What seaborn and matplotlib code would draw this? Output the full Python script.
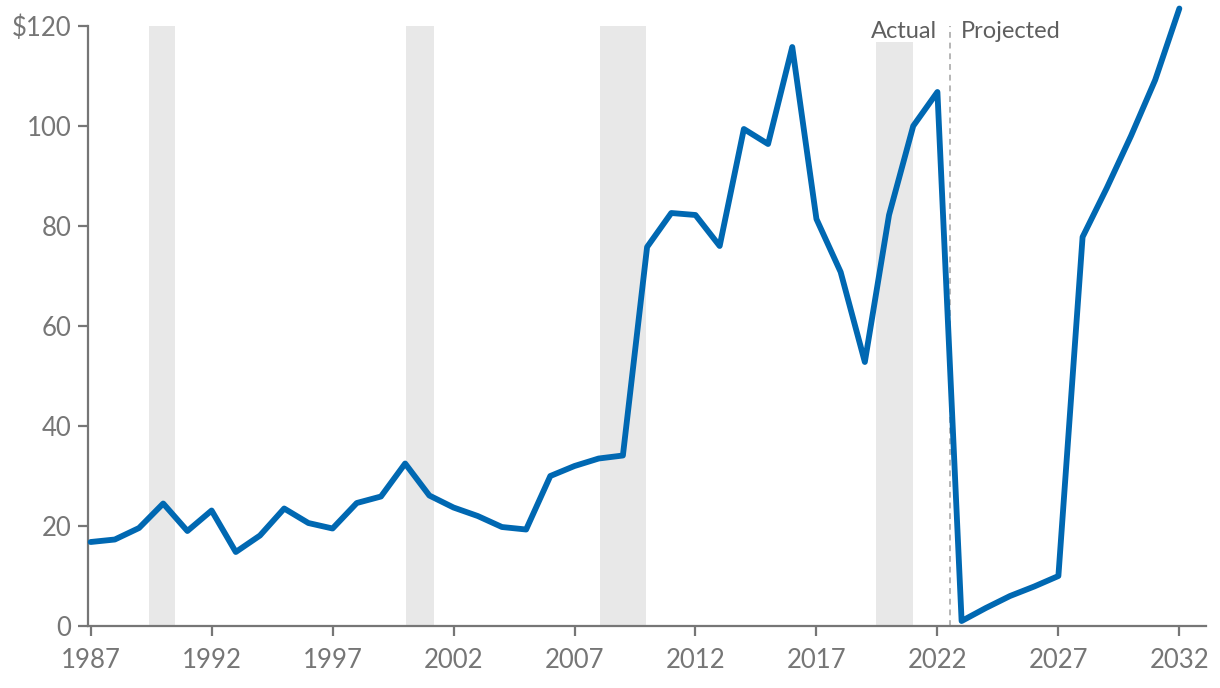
import numpy as np
import pandas as pd
import matplotlib
matplotlib.use("Agg")
import matplotlib.pyplot as plt
import seaborn as sns

years = list(range(1987, 2033))
values = [16.8, 17.3, 19.6, 24.5, 19.0, 23.1, 14.8, 18.1, 23.5, 20.6,
          19.5, 24.6, 25.9, 32.5, 26.1, 23.7, 22.0, 19.8, 19.3, 30.0,
          32.0, 33.5, 34.1, 75.8, 82.6, 82.2, 76.0, 99.4, 96.4, 115.8,
          81.4, 70.8, 52.8, 82.2, 100.0, 106.8, 1.0, 3.6, 6.0, 7.9,
          10.0, 77.8, 87.6, 98.0, 109.2, 123.5]
recession_starts = [1989.4, 2000.05, 2008.05, 2019.45]
recession_ends = [1990.5, 2001.2, 2009.95, 2021.0]
recession_tops = [120, 120, 120, 116.8]
divider_year = 2022.5
ytick_vals = [0, 20, 40, 60, 80, 100, 120]
ytick_labels = ["0", "20", "40", "60", "80", "100", "$120"]
xtick_vals = [1987, 1992, 1997, 2002, 2007, 2012, 2017, 2022, 2027, 2032]

df = pd.DataFrame({"year": years, "value": values})

sns.set_theme(style="ticks")
plt.rcParams["font.family"] = ["Lato", "DejaVu Sans"]

gray = "#767676"
fig = plt.figure(figsize=(12.2, 6.88), dpi=100)
ax = fig.add_axes([0.0721, 0.0901, 0.9164, 0.8721])

for s, e, t in zip(recession_starts, recession_ends, recession_tops):
    ax.fill_between([s, e], 0, t, color="#e8e8e8", linewidth=0, zorder=0)

ax.plot([divider_year, divider_year], [0, 120], color="#b5b5b5",
        linestyle=(0, (3, 2.5)), linewidth=1.4, zorder=1)

sns.lineplot(data=df, x="year", y="value", ax=ax, color="#0068b2",
             linewidth=4.2, zorder=3, clip_on=False)

ax.text(divider_year - 0.5, 119.0, "Actual", ha="right", va="center",
        fontsize=17, color="#5f5f5f")
ax.text(divider_year + 0.45, 119.0, "Projected", ha="left", va="center",
        fontsize=17, color="#5f5f5f")

ax.set_xlim(1986.89, 2033.1)
ax.set_ylim(0, 120)
ax.set_xticks(xtick_vals)
ax.set_xticklabels([str(v) for v in xtick_vals])
ax.set_yticks(ytick_vals)
ax.set_yticklabels(ytick_labels)
ax.set_xlabel("")
ax.set_ylabel("")

for side in ["top", "right"]:
    ax.spines[side].set_visible(False)
for side in ["left", "bottom"]:
    ax.spines[side].set_color(gray)
    ax.spines[side].set_linewidth(1.6)

ax.tick_params(axis="both", colors=gray, labelcolor=gray, labelsize=18.5,
               width=1.6, length=7, direction="out")
ax.tick_params(axis="x", pad=9)
ax.tick_params(axis="y", pad=5)

fig.savefig("out.png", dpi=100)
